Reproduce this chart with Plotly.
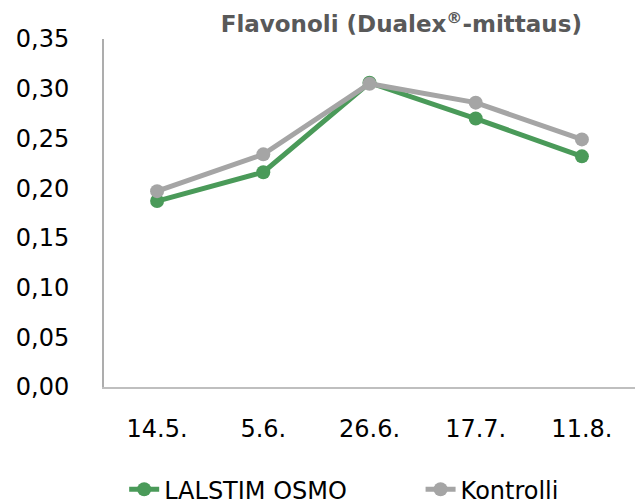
import plotly.graph_objects as go

categories = ["14.5.", "5.6.", "26.6.", "17.7.", "11.8."]
lalstim = [0.187, 0.216, 0.306, 0.270, 0.232]
kontrolli = [0.197, 0.234, 0.305, 0.286, 0.249]
y_ticks = [0.0, 0.05, 0.10, 0.15, 0.20, 0.25, 0.30, 0.35]
y_tick_labels = ["0,00", "0,05", "0,10", "0,15", "0,20", "0,25", "0,30", "0,35"]
series_names = ["LALSTIM OSMO", "Kontrolli"]

GREEN = "#4A9A59"
GRAY = "#A5A5A5"
FONT = "DejaVu Sans"
PAD = "\u00a0" * 9

fig = go.Figure()
fig.add_trace(go.Scatter(
    x=categories, y=lalstim, name=series_names[0] + PAD, mode="lines+markers",
    line=dict(color=GREEN, width=5), marker=dict(color=GREEN, size=14),
))
fig.add_trace(go.Scatter(
    x=categories, y=kontrolli, name=series_names[1], mode="lines+markers",
    line=dict(color=GRAY, width=5), marker=dict(color=GRAY, size=14),
))

fig.update_layout(
    width=635, height=504,
    margin=dict(l=104, r=0, t=39, b=117, autoexpand=False),
    paper_bgcolor="white", plot_bgcolor="white",
    font=dict(family=FONT, size=24, color="#000000"),
    title=dict(text="<b>Flavonoli (Dualex<sup>®</sup>-mittaus)</b>", x=0.632, xanchor="center",
               y=0.952, yanchor="middle",
               font=dict(family=FONT, size=23, color="#595959")),
    xaxis=dict(type="category", range=[-0.5, 4.5], showgrid=False, showline=True,
               linecolor="#BFBFBF", linewidth=2, ticks="", ticklabelstandoff=19,
               automargin=False,
               tickfont=dict(family=FONT, size=24, color="#000000")),
    yaxis=dict(range=[0, 0.35], tickvals=y_ticks, ticktext=y_tick_labels,
               showgrid=False, showline=True, linecolor="#ADADAD", linewidth=2,
               zeroline=False, ticks="", ticklabelstandoff=28, automargin=False,
               tickfont=dict(family=FONT, size=24, color="#000000")),
    legend=dict(orientation="h", x=0.038, xanchor="left", y=-0.295, yanchor="middle",
                font=dict(family=FONT, size=24, color="#000000"), itemwidth=30),
    showlegend=True,
)

fig.write_html("out.html", config={"displayModeBar": False},
               post_script="document.body.style.margin='0';document.body.style.padding='0';")
